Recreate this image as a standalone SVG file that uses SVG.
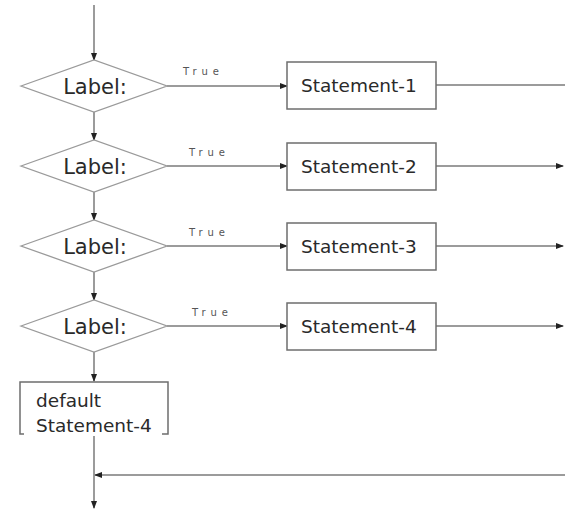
<svg xmlns="http://www.w3.org/2000/svg" width="565" height="510" viewBox="0 0 565 510">
<style>
.ln{stroke:#7a7a7a;stroke-width:1.5;fill:none}
.dm{stroke:#9a9a9a;stroke-width:1.3;fill:#fff}
.bx{stroke:#6e6e6e;stroke-width:1.5;fill:#fff}
.lb{font-family:"DejaVu Sans",sans-serif;font-size:21px;fill:#2a2a2a;text-anchor:middle}
.st{font-family:"DejaVu Sans",sans-serif;font-size:18.5px;fill:#2a2a2a}
.tr{font-family:"DejaVu Sans",sans-serif;font-size:10px;fill:#555}
</style>
<defs>
<marker id="ah" markerWidth="8" markerHeight="6" refX="7" refY="3" orient="auto" markerUnits="userSpaceOnUse">
<path d="M0,0 L8,3 L0,6 Z" fill="#222"/>
</marker>
</defs>
<g id="connectors">
<line class="ln" x1="94" y1="5" x2="94" y2="60" marker-end="url(#ah)"/>
<line class="ln" x1="94" y1="112" x2="94" y2="140" marker-end="url(#ah)"/>
<line class="ln" x1="94" y1="192" x2="94" y2="220" marker-end="url(#ah)"/>
<line class="ln" x1="94" y1="272" x2="94" y2="300" marker-end="url(#ah)"/>
<line class="ln" x1="94" y1="352" x2="94" y2="381" marker-end="url(#ah)"/>
<line class="ln" x1="167" y1="86" x2="287" y2="86" marker-end="url(#ah)"/>
<line class="ln" x1="167" y1="166" x2="287" y2="166" marker-end="url(#ah)"/>
<line class="ln" x1="167" y1="246" x2="287" y2="246" marker-end="url(#ah)"/>
<line class="ln" x1="167" y1="326" x2="287" y2="326" marker-end="url(#ah)"/>
<line class="ln" x1="436" y1="85" x2="565" y2="85"/>
<line class="ln" x1="436" y1="166" x2="563" y2="166" marker-end="url(#ah)"/>
<line class="ln" x1="436" y1="246" x2="563" y2="246" marker-end="url(#ah)"/>
<line class="ln" x1="436" y1="326" x2="563" y2="326" marker-end="url(#ah)"/>
<line class="ln" x1="565" y1="475" x2="95" y2="475" marker-end="url(#ah)"/>
<line class="ln" x1="94" y1="436" x2="94" y2="508" marker-end="url(#ah)"/>
<text class="tr" x="183" y="75" textLength="36" lengthAdjust="spacing">True</text>
<text class="tr" x="189" y="156" textLength="36" lengthAdjust="spacing">True</text>
<text class="tr" x="189" y="236" textLength="36" lengthAdjust="spacing">True</text>
<text class="tr" x="192" y="316" textLength="36" lengthAdjust="spacing">True</text>
</g>
<g id="label1">
<polygon class="dm" points="21,86 94,60 167,86 94,112"/>
<text class="lb" x="95" y="94">Label:</text>
</g>
<g id="label2">
<polygon class="dm" points="21,166 94,140 167,166 94,192"/>
<text class="lb" x="95" y="174">Label:</text>
</g>
<g id="label3">
<polygon class="dm" points="21,246 94,220 167,246 94,272"/>
<text class="lb" x="95" y="254">Label:</text>
</g>
<g id="label4">
<polygon class="dm" points="21,326 94,300 167,326 94,352"/>
<text class="lb" x="95" y="334">Label:</text>
</g>
<g id="statement1">
<rect class="bx" x="287" y="62" width="149" height="47"/>
<text class="st" x="301" y="92">Statement-1</text>
</g>
<g id="statement2">
<rect class="bx" x="287" y="143" width="149" height="47"/>
<text class="st" x="301" y="173">Statement-2</text>
</g>
<g id="statement3">
<rect class="bx" x="287" y="223" width="149" height="47"/>
<text class="st" x="301" y="253">Statement-3</text>
</g>
<g id="statement4">
<rect class="bx" x="287" y="303" width="149" height="47"/>
<text class="st" x="301" y="333">Statement-4</text>
</g>
<g id="default">
<path class="bx" fill="none" d="M24,434 L20,434 L20,382 L168,382 L168,434 L162,434"/>
<text class="st" x="36" y="407">default</text>
<text class="st" x="36" y="432">Statement-4</text>
</g>
</svg>
